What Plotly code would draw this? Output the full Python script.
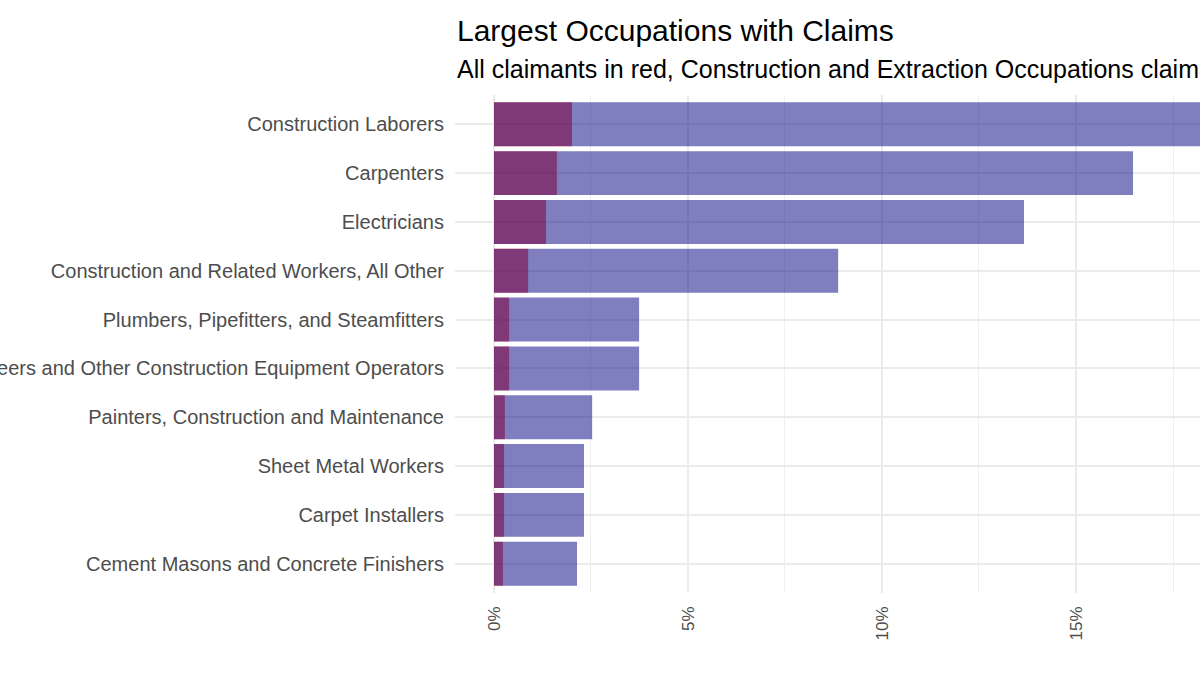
import plotly.graph_objects as go

occupations = [
    "Construction Laborers",
    "Carpenters",
    "Electricians",
    "Construction and Related Workers, All Other",
    "Plumbers, Pipefitters, and Steamfitters",
    "Operating Engineers and Other Construction Equipment Operators",
    "Painters, Construction and Maintenance",
    "Sheet Metal Workers",
    "Carpet Installers",
    "Cement Masons and Concrete Finishers",
]
all_claimants_pct = [2.01, 1.62, 1.34, 0.88, 0.39, 0.39, 0.28, 0.26, 0.26, 0.23]
construction_pct = [20.0, 16.47, 13.66, 8.87, 3.74, 3.74, 2.53, 2.32, 2.32, 2.14]
tick_vals = [0, 5, 10, 15, 20]
tick_text = ["0%", "5%", "10%", "15%", "20%"]

FONT = "Liberation Sans, Arial, Helvetica, sans-serif"

fig = go.Figure()
fig.add_trace(go.Bar(
    y=occupations, x=all_claimants_pct, orientation="h",
    marker=dict(color="rgba(255,0,0,0.55)", line=dict(width=0)),
    width=0.9, name="All claimants",
))
fig.add_trace(go.Bar(
    y=occupations, x=construction_pct, orientation="h",
    marker=dict(color="rgba(0,0,128,0.5)", line=dict(width=0)),
    width=0.9, name="Construction and Extraction",
))

fig.update_layout(
    width=1200, height=675,
    barmode="overlay",
    showlegend=False,
    plot_bgcolor="white", paper_bgcolor="white",
    margin=dict(l=455, r=0, t=95, b=82, autoexpand=False),
    font=dict(family=FONT, color="#4D4D4D"),
    annotations=[
        dict(text="Largest Occupations with Claims", x=0, y=1, xref="paper", yref="paper",
             xanchor="left", yanchor="bottom", yshift=46, showarrow=False,
             font=dict(size=30, color="black", family=FONT)),
        dict(text="All claimants in red, Construction and Extraction Occupations claimants in blue",
             x=0, y=1, xref="paper", yref="paper",
             xanchor="left", yanchor="bottom", yshift=10, showarrow=False,
             font=dict(size=25, color="black", family=FONT)),
    ],
)
fig.update_xaxes(
    range=[-1.005, 18.196],
    tickvals=tick_vals, ticktext=tick_text, tickangle=-90,
    tickfont=dict(size=17, color="#4D4D4D"),
    showgrid=True, gridcolor="#EBEBEB", gridwidth=1.6,
    minor=dict(dtick=2.5, tick0=0, showgrid=True, gridcolor="#EFEFEF", gridwidth=1.0),
    zeroline=False, showline=False, ticks="", automargin=False,
    ticklabelstandoff=9,
)
fig.update_yaxes(
    categoryorder="array", categoryarray=occupations[::-1],
    range=[-0.6, 9.6],
    tickfont=dict(size=20, color="#4D4D4D"),
    showgrid=True, gridcolor="#EBEBEB", gridwidth=1.6,
    zeroline=False, showline=False, ticks="", automargin=False,
    ticklabelstandoff=10,
)

fig.write_html("out.html")
